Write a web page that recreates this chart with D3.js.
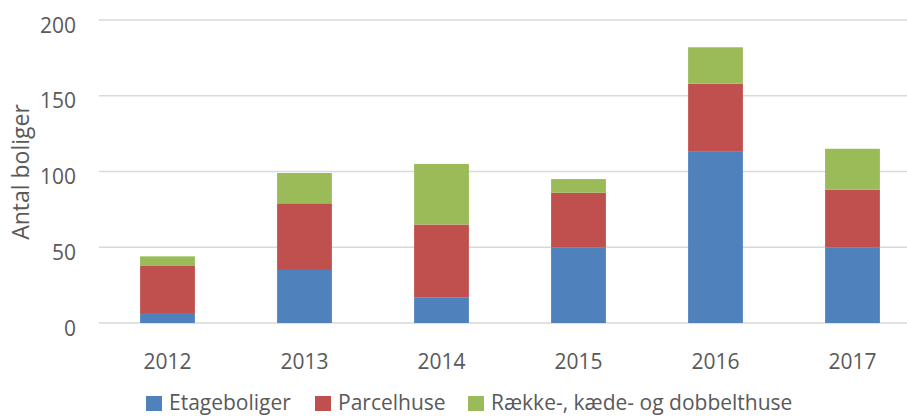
<!DOCTYPE html>
<html>
<head>
<meta charset="utf-8">
<script src="https://cdn.jsdelivr.net/npm/d3@7"></script>
<style>
  body { margin: 0; background: #fff; }
  svg { display: block; font-family: "Open Sans", sans-serif; }
</style>
</head>
<body>
<div class="chart"></div>
<script>
var width = 907, height = 416;

// data
var years = ["2012", "2013", "2014", "2015", "2016", "2017"];
var etageboliger = [6, 35, 17, 50, 113, 50];
var parcelhuse = [32, 44, 48, 36, 45, 38];
var raekkehuse = [6, 20, 40, 9, 24, 27];
var seriesNames = ["Etageboliger", "Parcelhuse", "Række-, kæde- og dobbelthuse"];
var yTicks = [0, 50, 100, 150, 200];

var colors = ["#4F81BD", "#C0504D", "#9BBB59"];

var svg = d3.select(".chart").append("svg").attr("width", width).attr("height", height);

var x = d3.scaleBand().domain(years).range([99, 921]).paddingInner(0.6).paddingOuter(0.3);
var y = d3.scaleLinear().domain([0, 200]).range([323, 20]);

// gridlines
svg.append("g").selectAll("line").data(yTicks).enter().append("line")
  .attr("x1", 99).attr("x2", width)
  .attr("y1", function(d) { return y(d); }).attr("y2", function(d) { return y(d); })
  .style("stroke", "#D9D9D9").style("stroke-width", 1.5);

// tick labels
svg.append("g").selectAll("text").data(yTicks).enter().append("text")
  .attr("x", 76).attr("y", function(d) { return y(d) + 12.5; })
  .attr("text-anchor", "end")
  .style("font-size", "21px").style("fill", "#595959")
  .text(function(d) { return d; });

svg.append("g").selectAll("text").data(years).enter().append("text")
  .attr("x", function(d) { return x(d) + x.bandwidth() / 2; })
  .attr("y", 368.5)
  .attr("text-anchor", "middle")
  .style("font-size", "21px").style("fill", "#595959")
  .text(function(d) { return d; });

// y title
svg.append("text")
  .attr("transform", "translate(29,172) rotate(-90)")
  .attr("text-anchor", "middle")
  .style("font-size", "23px").style("fill", "#595959")
  .text("Antal boliger");

// stacked bars
var rows = years.map(function(yr, i) {
  return { year: yr, a: etageboliger[i], b: parcelhuse[i], c: raekkehuse[i] };
});
var stack = d3.stack().keys(["a", "b", "c"])(rows);

svg.append("g").selectAll("g").data(stack).enter().append("g")
  .style("fill", function(d, i) { return colors[i]; })
  .selectAll("rect").data(function(d) { return d; }).enter().append("rect")
  .attr("x", function(d) { return x(d.data.year); })
  .attr("width", x.bandwidth())
  .attr("y", function(d) { return y(d[1]); })
  .attr("height", function(d) { return y(d[0]) - y(d[1]); });

// legend
var legendX = [146, 315, 468];
var leg = svg.append("g").selectAll("g").data(seriesNames).enter().append("g")
  .attr("transform", function(d, i) { return "translate(" + legendX[i] + ",396)"; });
leg.append("rect").attr("width", 16).attr("height", 15)
  .style("fill", function(d, i) { return colors[i]; });
leg.append("text").attr("x", 23).attr("y", 14)
  .style("font-size", "21px").style("fill", "#595959")
  .text(function(d) { return d; });
</script>
</body>
</html>
